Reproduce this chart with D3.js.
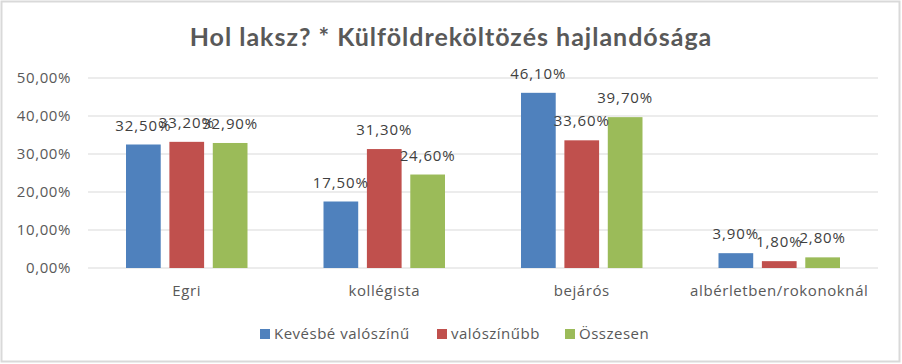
<!DOCTYPE html>
<meta charset="utf-8">
<style>
body { margin: 0; background: #fff; }
text { font-family: "Open Sans", Lato, sans-serif; }
.title { font-family: Lato, sans-serif; font-weight: bold; fill: #595959; font-size: 25px; letter-spacing: 1px; }
.axis text { fill: #595959; font-size: 15px; letter-spacing: 0.6px; }
.label { fill: #404040; font-size: 15px; letter-spacing: 0.9px; }
.legend text { fill: #595959; font-size: 15px; letter-spacing: 0.5px; }
</style>
<body>
<div id="chart"></div>
<script src="https://d3js.org/d3.v7.min.js"></script>
<script>

var categories = ["Egri", "kollégista", "bejárós", "albérletben/rokonoknál"];
var seriesNames = ["Kevésbé valószínű", "valószínűbb", "Összesen"];
var kevesbe = [32.5, 17.5, 46.1, 3.9];
var valoszinubb = [33.2, 31.3, 33.6, 1.8];
var osszesen = [32.9, 24.6, 39.7, 2.8];
var yTicks = [0, 10, 20, 30, 40, 50];
var colors = ["#4f81bd", "#c0504d", "#9bbb59"];

var W = 902, H = 364;
var margin = {top: 78, right: 24, bottom: 96, left: 88},
    width = W - margin.left - margin.right,
    height = H - margin.top - margin.bottom;

var svg = d3.select("#chart").append("svg")
    .attr("width", W)
    .attr("height", H);

// chart border
svg.append("rect")
    .attr("x", 1.5).attr("y", 1.5)
    .attr("width", W - 4).attr("height", H - 4)
    .attr("fill", "#fff")
    .attr("stroke", "#d9d9d9")
    .attr("stroke-width", 2);

svg.append("text")
    .attr("class", "title")
    .attr("x", W / 2)
    .attr("y", 46)
    .attr("text-anchor", "middle")
    .text("Hol laksz? * Külföldreköltözés hajlandósága");

var g = svg.append("g")
    .attr("transform", "translate(" + margin.left + "," + margin.top + ")");

var x0 = d3.scaleBand().domain(categories).range([0, width]);
var x1 = d3.scaleBand().domain(seriesNames).range([38, x0.bandwidth() - 38]).paddingInner(0.2);
var y = d3.scaleLinear().domain([0, 50]).range([height, 0]);

// gridlines
g.selectAll(".grid")
    .data(yTicks)
  .enter().append("line")
    .attr("x1", 0).attr("x2", width)
    .attr("y1", function(d) { return y(d); })
    .attr("y2", function(d) { return y(d); })
    .attr("stroke", "#d9d9d9")
    .attr("stroke-width", 1);

var fmt = function(v) { return d3.format(".2f")(v).replace(".", ",") + "%"; };

var yAxis = g.append("g")
    .attr("class", "axis")
    .call(d3.axisLeft(y).tickValues(yTicks).tickSize(0).tickPadding(17).tickFormat(fmt));
yAxis.select(".domain").remove();

var xAxis = g.append("g")
    .attr("class", "axis")
    .attr("transform", "translate(0," + height + ")")
    .call(d3.axisBottom(x0).tickSize(0).tickPadding(17));
xAxis.select(".domain").remove();

var rows = categories.map(function(c, i) {
  return [kevesbe[i], valoszinubb[i], osszesen[i]].map(function(v, j) {
    return {cat: c, series: seriesNames[j], value: v, color: colors[j]};
  });
});

var groups = g.selectAll(".group")
    .data(rows)
  .enter().append("g")
    .attr("transform", function(d) { return "translate(" + x0(d[0].cat) + ",0)"; });

groups.selectAll("rect")
    .data(function(d) { return d; })
  .enter().append("rect")
    .attr("x", function(d) { return x1(d.series); })
    .attr("width", x1.bandwidth())
    .attr("y", function(d) { return y(d.value); })
    .attr("height", function(d) { return height - y(d.value); })
    .attr("fill", function(d) { return d.color; });

groups.selectAll(".label")
    .data(function(d) { return d; })
  .enter().append("text")
    .attr("class", "label")
    .attr("text-anchor", "middle")
    .attr("x", function(d) { return x1(d.series) + x1.bandwidth() / 2; })
    .attr("y", function(d) { return y(d.value) - 14; })
    .text(function(d) { return fmt(d.value); });

// legend
var legendX = [260, 437, 565];
var legend = svg.append("g")
    .attr("class", "legend")
  .selectAll("g")
    .data(seriesNames)
  .enter().append("g")
    .attr("transform", function(d, i) { return "translate(" + legendX[i] + ",329)"; });

legend.append("rect")
    .attr("width", 10).attr("height", 10)
    .attr("fill", function(d, i) { return colors[i]; });

legend.append("text")
    .attr("x", 14)
    .attr("y", 10)
    .text(function(d) { return d; });

</script>
</body>
